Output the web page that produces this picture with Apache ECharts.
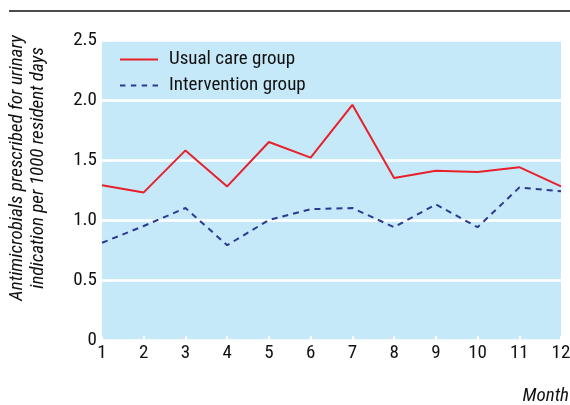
<!DOCTYPE html>
<html>
<head>
<meta charset="utf-8">
<script src="https://cdn.jsdelivr.net/npm/echarts@6/dist/echarts.min.js"></script>
<style>
  html, body { margin: 0; padding: 0; background: #fff; }
  #chart { width: 570px; height: 405px; }
</style>
</head>
<body>
<div id="chart"></div>
<script>
const months = ['1', '2', '3', '4', '5', '6', '7', '8', '9', '10', '11', '12'];
const usualCare = [1.29, 1.23, 1.58, 1.28, 1.65, 1.52, 1.96, 1.35, 1.41, 1.40, 1.44, 1.28];
const intervention = [0.81, 0.95, 1.10, 0.79, 1.00, 1.09, 1.10, 0.94, 1.13, 0.94, 1.27, 1.24];

const font = "'Liberation Sans Narrow', 'Roboto Condensed', 'Liberation Sans', sans-serif";

const chart = echarts.init(document.getElementById('chart'));
chart.setOption({
    animation: false,
    textStyle: { fontFamily: font },
    grid: {
        left: 102, right: 9, top: 40, bottom: 65, outerBoundsMode: 'none', containLabel: false,
        backgroundColor: '#c6e9f9', show: true, borderWidth: 0
    },
    legend: {
        left: 115, top: 45, orient: 'vertical',
        itemWidth: 38, itemHeight: 14, itemGap: 7,
        textStyle: { fontSize: 19, color: '#111', fontFamily: font, padding: [0, 0, 0, 6] },
        data: [
            { name: 'Usual care group', icon: 'path://M0,0 L38,0 L38,2 L0,2 Z' },
            { name: 'Intervention group', icon: 'path://M0,0 L5,0 L5,2 L0,2 Z M10,0 L15,0 L15,2 L10,2 Z M20,0 L25,0 L25,2 L20,2 Z M30,0 L35,0 L35,2 L30,2 Z' }
        ]
    },
    xAxis: {
        type: 'category', data: months, boundaryGap: false,
        axisLine: { show: false },
        axisTick: { show: true, inside: true, length: 4, lineStyle: { color: '#fff', width: 2 } },
        axisLabel: { fontSize: 19, color: '#111', margin: 4 },
        splitLine: { show: false }
    },
    yAxis: {
        type: 'value', min: 0, max: 2.5, interval: 0.5,
        axisLine: { show: false }, axisTick: { show: false },
        axisLabel: {
            fontSize: 19, color: '#111', margin: 5,
            formatter: v => v === 0 ? '0' : v.toFixed(1)
        },
        splitLine: { lineStyle: { color: '#fff', width: 2.5 } }
    },
    series: [
        {
            name: 'Usual care group', type: 'line', data: usualCare, symbol: 'none',
            itemStyle: { color: '#e8202a' },
            lineStyle: { color: '#e8202a', width: 2 }
        },
        {
            name: 'Intervention group', type: 'line', data: intervention, symbol: 'none',
            itemStyle: { color: '#2b3990' },
            lineStyle: { color: '#2b3990', width: 2, type: [6, 5] }
        }
    ],
    graphic: [
        { type: 'line', shape: { x1: 9, y1: 11, x2: 570, y2: 11 }, style: { stroke: '#111', lineWidth: 1.5 } },
        {
            type: 'text', x: 28, y: 168, rotation: Math.PI / 2,
            style: {
                text: 'Antimicrobials prescribed for urinary\nindication per 1000 resident days',
                font: 'italic 19px ' + font, fill: '#111', align: 'center', verticalAlign: 'middle', lineHeight: 21
            }
        },
        {
            type: 'text', right: 1, top: 387,
            style: { text: 'Month', font: 'italic 19px ' + font, fill: '#111' }
        }
    ]
});
</script>
</body>
</html>
